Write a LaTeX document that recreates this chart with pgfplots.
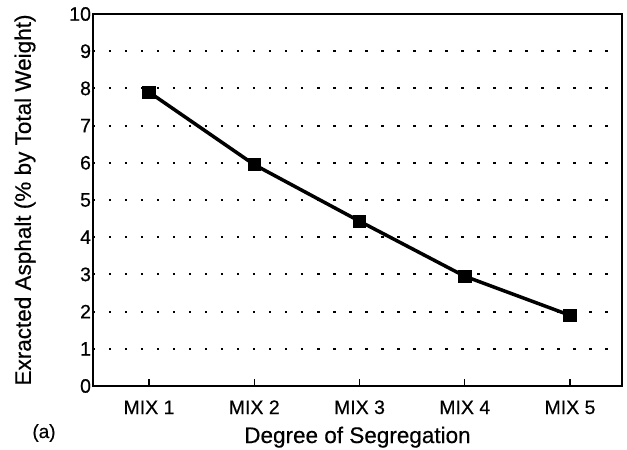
\documentclass[border=0pt]{standalone}
\usepackage{pgfplots}
\pgfplotsset{compat=1.18}
\usepackage{fontspec}
\setmainfont{Liberation Sans}[FakeBold=0.4]
\begin{document}
\begin{tikzpicture}[x=1pt,y=1pt]
\useasboundingbox (-93,-64) rectangle (534,386);
\begin{axis}[
  at={(0,0)}, anchor=south west,
  scale only axis, width=529pt, height=372pt,
  xmin=0.468, xmax=5.494, ymin=0, ymax=10,
  xtick={1,2,3,4,5},
  xticklabels={MIX 1,MIX 2,MIX 3,MIX 4,MIX 5},
  ytick={0,1,2,3,4,5,6,7,8,9,10},
  /pgf/number format/assume math mode=true,
  tick label style={font=\fontsize{19.5}{23}\selectfont},
  xticklabel style={anchor=base, yshift=-28pt},
  yticklabel style={xshift=1.5pt},
  axis line style={line width=1.8pt},
  x tick style={line width=1.2pt, black},
  xtick pos=bottom, tick align=inside,
  major tick length=7pt,
  y tick style={draw=none},
  ymajorgrids,
  grid style={black, line width=2pt, dash pattern=on 2.5pt off 13.5pt},
  xlabel={Degree of Segregation},
  ylabel={Exracted Asphalt (\% by Total Weight)},
  label style={font=\fontsize{22.5}{26}\selectfont},
  xlabel style={at={(axis description cs:0.5,0)}, anchor=base, yshift=-57pt},
  ylabel style={at={(axis description cs:-0.1285,0.5)}, anchor=center},
  clip=false,
]
\addplot[black, line width=3.5pt, mark=square*, mark size=6.2pt, mark options={line width=0.8pt, solid}]
  coordinates {(1,7.9) (2,5.95) (3,4.43) (4,2.95) (5,1.9)};
\node[font=\fontsize{19}{23}\selectfont, anchor=base] at (axis description cs:-0.0926,-0.1398) {(a)};
\end{axis}
\end{tikzpicture}
\end{document}
